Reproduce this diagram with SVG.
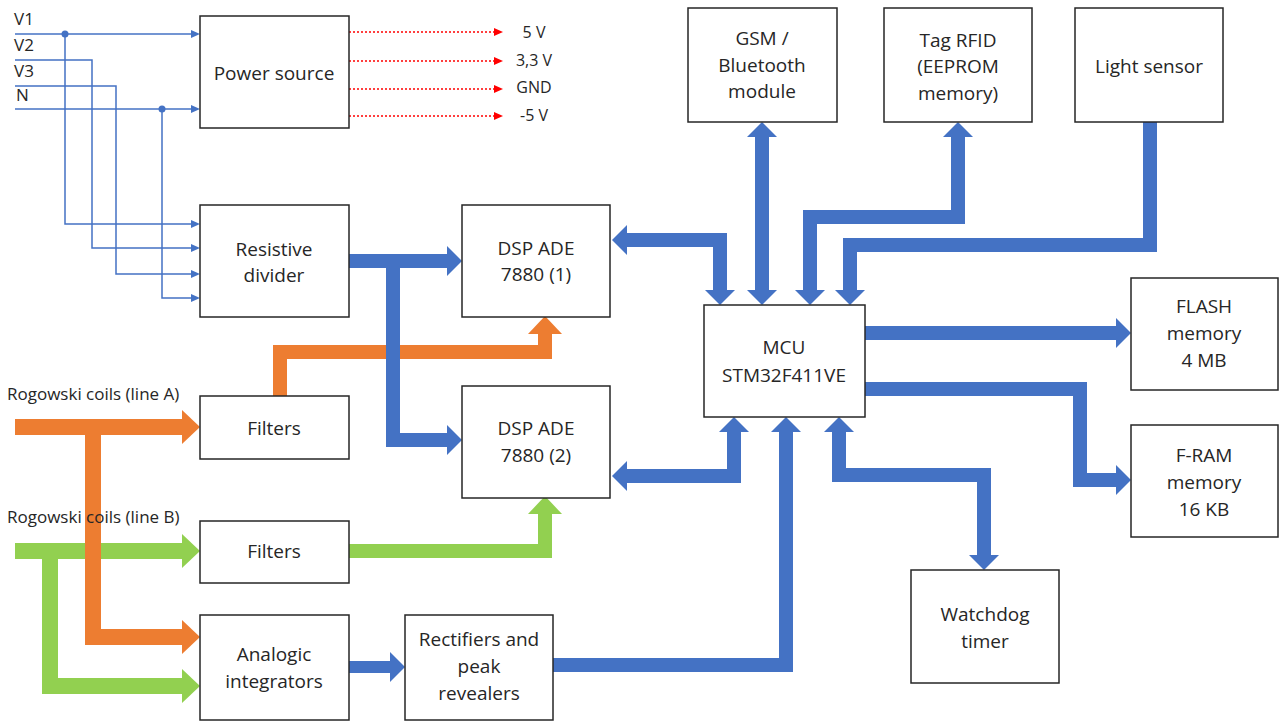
<svg xmlns="http://www.w3.org/2000/svg" width="1279" height="722" viewBox="0 0 1279 722">
  <defs>
    <style>
      .box { fill: #ffffff; stroke: #262626; stroke-width: 1.5; }
      .lbl { font-family: "Open Sans", "Noto Sans", "Liberation Sans", sans-serif; font-size: 19px; fill: #262626; text-anchor: middle; }
      .sm { font-family: "Open Sans", "Noto Sans", "Liberation Sans", sans-serif; font-size: 17px; fill: #262626; }
      .out { font-family: "Open Sans", "Noto Sans", "Liberation Sans", sans-serif; font-size: 16px; fill: #262626; text-anchor: middle; }
      .bus { fill: none; stroke: #4472C4; stroke-width: 14; stroke-linejoin: miter; stroke-linecap: butt; }
      .orn { fill: none; stroke: #ED7D31; stroke-width: 16; stroke-linejoin: miter; stroke-linecap: butt; }
      .grn { fill: none; stroke: #92D050; stroke-width: 16; stroke-linejoin: miter; stroke-linecap: butt; }
      .wire { fill: none; stroke: #4472C4; stroke-width: 1.5; }
      .rail { fill: none; stroke: #FF0000; stroke-width: 1.5; stroke-dasharray: 2 2; }
    </style>
    <marker id="hb" markerUnits="userSpaceOnUse" viewBox="0 -16 16 32" refX="0" refY="0" markerWidth="16" markerHeight="32" orient="auto-start-reverse">
      <path d="M0,-15 L15,0 L0,15 z" fill="#4472C4"/>
    </marker>
    <marker id="ho" markerUnits="userSpaceOnUse" viewBox="0 -18 19 36" refX="0" refY="0" markerWidth="19" markerHeight="36" orient="auto-start-reverse">
      <path d="M0,-17 L18,0 L0,17 z" fill="#ED7D31"/>
    </marker>
    <marker id="hg" markerUnits="userSpaceOnUse" viewBox="0 -18 19 36" refX="0" refY="0" markerWidth="19" markerHeight="36" orient="auto-start-reverse">
      <path d="M0,-17 L18,0 L0,17 z" fill="#92D050"/>
    </marker>
    <marker id="hw" markerUnits="userSpaceOnUse" viewBox="0 -5 10 10" refX="0" refY="0" markerWidth="10" markerHeight="10" orient="auto">
      <path d="M0,-4 L9,0 L0,4 z" fill="#4472C4"/>
    </marker>
    <marker id="hr" markerUnits="userSpaceOnUse" viewBox="0 -5 10 10" refX="0" refY="0" markerWidth="10" markerHeight="10" orient="auto">
      <path d="M0,-4 L9,0 L0,4 z" fill="#FF0000"/>
    </marker>
  </defs>

  <rect width="1279" height="722" fill="#ffffff"/>

  <g id="connectors">
    <!-- mains wires -->
    <path class="wire" d="M15,34 H191" marker-end="url(#hw)"/>
    <path class="wire" d="M65,34 V224 H191" marker-end="url(#hw)"/>
    <path class="wire" d="M15,60 H92 V248 H191" marker-end="url(#hw)"/>
    <path class="wire" d="M15,86 H116 V274 H191" marker-end="url(#hw)"/>
    <path class="wire" d="M15,109 H191" marker-end="url(#hw)"/>
    <path class="wire" d="M162,109 V298 H191" marker-end="url(#hw)"/>
    <circle cx="65" cy="34" r="3.5" fill="#4472C4"/>
    <circle cx="162" cy="109" r="3.5" fill="#4472C4"/>

    <!-- supply rails -->
    <path class="rail" d="M349,32 H494" marker-end="url(#hr)"/>
    <path class="rail" d="M349,61 H494" marker-end="url(#hr)"/>
    <path class="rail" d="M349,89 H494" marker-end="url(#hr)"/>
    <path class="rail" d="M349,116 H494" marker-end="url(#hr)"/>

    <!-- line B current path -->
    <path class="grn" d="M15,551 H182" marker-end="url(#hg)"/>
    <path class="grn" d="M50,551 V686 H182" marker-end="url(#hg)"/>
    <path class="grn" style="stroke-width:14" d="M349,551 H545 V514" marker-end="url(#hg)"/>

    <!-- line A current path -->
    <path class="orn" d="M15,427 H182" marker-end="url(#ho)"/>
    <path class="orn" d="M93,427 V637 H182" marker-end="url(#ho)"/>
    <path class="orn" style="stroke-width:14" d="M280,396 V352 H545 V334" marker-end="url(#ho)"/>

    <!-- voltage and data buses -->
    <path class="bus" d="M349,261 H447" marker-end="url(#hb)"/>
    <path class="bus" d="M393,261 V440 H447" marker-end="url(#hb)"/>
    <path class="bus" d="M627,240 H720 V290" marker-start="url(#hb)" marker-end="url(#hb)"/>
    <path class="bus" d="M762,137 V290" marker-start="url(#hb)" marker-end="url(#hb)"/>
    <path class="bus" d="M958,137 V217 H810 V290" marker-start="url(#hb)" marker-end="url(#hb)"/>
    <path class="bus" d="M1150,122 V245 H850 V290" marker-end="url(#hb)"/>
    <path class="bus" d="M865,333 H1116" marker-end="url(#hb)"/>
    <path class="bus" d="M865,389 H1080 V480 H1116" marker-end="url(#hb)"/>
    <path class="bus" d="M734,432 V476 H627" marker-start="url(#hb)" marker-end="url(#hb)"/>
    <path class="bus" d="M553,665 H786 V432" marker-end="url(#hb)"/>
    <path class="bus" d="M839,432 V475 H984 V555" marker-start="url(#hb)" marker-end="url(#hb)"/>
    <path class="bus" style="stroke-width:12" d="M349,667 H390" marker-end="url(#hb)"/>
  </g>

  <g id="inputs">
    <text class="sm" x="14" y="25">V1</text>
    <text class="sm" x="14" y="51">V2</text>
    <text class="sm" x="14" y="77">V3</text>
    <text class="sm" x="16" y="101">N</text>
    <text class="sm" x="7" y="400">Rogowski coils (line A)</text>
    <text class="sm" x="7" y="523">Rogowski coils (line B)</text>
  </g>

  <g id="rails">
    <text class="out" x="534" y="38">5 V</text>
    <text class="out" x="534" y="66">3,3 V</text>
    <text class="out" x="534" y="93">GND</text>
    <text class="out" x="534" y="121">-5 V</text>
  </g>

  <g id="power-source">
    <rect class="box" x="200" y="16" width="149" height="112"/>
    <text class="lbl" x="274" y="80">Power source</text>
  </g>

  <g id="resistive-divider">
    <rect class="box" x="200" y="205" width="149" height="112"/>
    <text class="lbl" x="274" y="256">Resistive</text>
    <text class="lbl" x="274" y="282">divider</text>
  </g>

  <g id="filters-a">
    <rect class="box" x="200" y="396" width="149" height="63"/>
    <text class="lbl" x="274" y="435">Filters</text>
  </g>

  <g id="filters-b">
    <rect class="box" x="200" y="521" width="149" height="62"/>
    <text class="lbl" x="274" y="558">Filters</text>
  </g>

  <g id="integrators">
    <rect class="box" x="200" y="615" width="149" height="105"/>
    <text class="lbl" x="274" y="661">Analogic</text>
    <text class="lbl" x="274" y="688">integrators</text>
  </g>

  <g id="rectifiers">
    <rect class="box" x="405" y="615" width="148" height="105"/>
    <text class="lbl" x="479" y="646">Rectifiers and</text>
    <text class="lbl" x="479" y="673">peak</text>
    <text class="lbl" x="479" y="700">revealers</text>
  </g>

  <g id="dsp-1">
    <rect class="box" x="462" y="205" width="148" height="112"/>
    <text class="lbl" x="536" y="255">DSP ADE</text>
    <text class="lbl" x="536" y="281">7880 (1)</text>
  </g>

  <g id="dsp-2">
    <rect class="box" x="462" y="386" width="148" height="112"/>
    <text class="lbl" x="536" y="435">DSP ADE</text>
    <text class="lbl" x="536" y="462">7880 (2)</text>
  </g>

  <g id="mcu">
    <rect class="box" x="704" y="305" width="161" height="112"/>
    <text class="lbl" x="784" y="354">MCU</text>
    <text class="lbl" x="784" y="382">STM32F411VE</text>
  </g>

  <g id="gsm">
    <rect class="box" x="688" y="8" width="149" height="114"/>
    <text class="lbl" x="762" y="45">GSM /</text>
    <text class="lbl" x="762" y="72">Bluetooth</text>
    <text class="lbl" x="762" y="98">module</text>
  </g>

  <g id="rfid">
    <rect class="box" x="884" y="8" width="148" height="114"/>
    <text class="lbl" x="958" y="47">Tag RFID</text>
    <text class="lbl" x="958" y="73">(EEPROM</text>
    <text class="lbl" x="958" y="100">memory)</text>
  </g>

  <g id="light-sensor">
    <rect class="box" x="1075" y="8" width="148" height="114"/>
    <text class="lbl" x="1149" y="73">Light sensor</text>
  </g>

  <g id="flash">
    <rect class="box" x="1131" y="278" width="147" height="112"/>
    <text class="lbl" x="1204" y="313">FLASH</text>
    <text class="lbl" x="1204" y="340">memory</text>
    <text class="lbl" x="1204" y="367">4 MB</text>
  </g>

  <g id="fram">
    <rect class="box" x="1131" y="425" width="147" height="112"/>
    <text class="lbl" x="1204" y="462">F-RAM</text>
    <text class="lbl" x="1204" y="489">memory</text>
    <text class="lbl" x="1204" y="516">16 KB</text>
  </g>

  <g id="watchdog">
    <rect class="box" x="911" y="570" width="148" height="113"/>
    <text class="lbl" x="985" y="621">Watchdog</text>
    <text class="lbl" x="985" y="648">timer</text>
  </g>
</svg>
